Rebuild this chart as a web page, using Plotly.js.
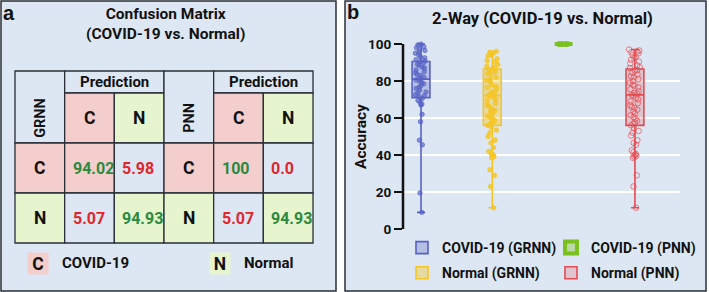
<!DOCTYPE html>
<html><head><meta charset="utf-8">
<script src="https://cdn.plot.ly/plotly-3.0.1.min.js"></script>
<style>html,body{margin:0;padding:0;background:#fff}#chart{width:709px;height:292px}</style>
</head><body><div id="chart"></div>
<script>
// ---------------- data ----------------
const boxCategories = ['COVID-19 (GRNN)', 'Normal (GRNN)', 'COVID-19 (PNN)', 'Normal (PNN)'];
const covidGrnnAcc = [100, 99.5, 98.5, 98, 97, 96.5, 95.5, 95, 94, 93, 92.5, 91.5, 91, 90.5, 90, 89, 88.5, 87.5, 87, 86, 85, 84.5, 83.5, 83, 82, 81.5, 81, 80.5, 80, 79, 78.5, 77.5, 76.5, 76, 75, 74, 73.5, 72.5, 72, 71.5, 70.5, 69.5, 68.5, 67.5, 67, 62, 58, 48, 45.5, 19.5, 9];
const normalGrnnAcc = [96, 95.5, 95, 94, 93.5, 92, 91, 90.5, 89, 88, 87.5, 86.5, 86, 85, 84, 83.5, 82, 81, 80.5, 79.5, 78, 77, 76.5, 75.5, 74, 73, 72.5, 72, 71, 70, 69.5, 68, 67, 66.5, 65, 64, 63.5, 62, 61, 60, 59.5, 58.5, 57.5, 57, 56, 55, 53.5, 52, 50, 48, 46.5, 44, 42, 41, 40, 39.5, 39, 38.5, 32, 29, 23, 11.5];
const covidPnnAcc = [100, 100, 100, 100, 100, 100, 100, 100, 100, 100, 100, 100];
const normalPnnAcc = [97, 96.5, 96, 95.5, 95, 94, 93, 92.5, 91.5, 90.5, 89.5, 88.5, 87.5, 87, 86, 85.5, 84.5, 83.5, 82.5, 82, 81, 80, 79, 78, 77.5, 76.5, 75.5, 74.5, 73.5, 73, 72.5, 72, 71, 70, 69, 68, 67, 66, 65.5, 64.5, 63.5, 62.5, 61.5, 60.5, 59.5, 58.5, 57.5, 57, 56, 54.5, 53, 52, 50.5, 48, 46.5, 45.5, 42.5, 41.5, 40.5, 40, 39.5, 39, 38.5, 29, 23, 11.5];
const boxMin = [9, 11.5, 100, 11.5];
const boxQ1 = [71, 56, 100, 56];
const boxMedian = [81, 72, 100, 72.5];
const boxQ3 = [90.5, 86.5, 100, 86.5];
const boxMax = [100, 96, 100, 97];
const yTickVals = [0, 20, 40, 60, 80, 100];
const gridVals = [20, 40, 60, 80];

const models = ['GRNN', 'PNN'];
const classes = ['C', 'N'];
const classNames = ['COVID-19', 'Normal'];
const grnnMatrix = [['94.02', '5.98'], ['5.07', '94.93']];
const pnnMatrix = [['100', '0.0'], ['5.07', '94.93']];

// ---------------- styles ----------------
const W = 709, H = 292;
const px = x => x / W;
const py = y => 1 - y / H;
const FONT = 'Roboto, "Liberation Sans", Arial, sans-serif';
const WIDE = '"Liberation Sans", Arial, sans-serif';
const PANEL = '#dde7f3', PINK = '#f4cdcd', LGREEN = '#e7f5cf', BORDER = '#2a2f38', INK = '#111111';
const TXT_GREEN = '#2b8a3e', TXT_RED = '#e0262c';
const classFill = [PINK, LGREEN];
const boxLine = ['rgb(88,98,196)', 'rgb(245,198,35)', 'rgb(122,192,30)', 'rgb(228,75,80)'];
const boxFill = ['rgba(88,98,196,0.30)', 'rgba(245,198,35,0.38)', 'rgba(122,192,30,0.35)', 'rgba(228,75,80,0.22)'];
const ptColor = ['rgba(88,98,196,0.65)', 'rgba(245,198,35,0.8)', 'rgba(122,192,30,0.9)', 'rgba(228,75,80,0.7)'];
const ptSymbol = ['circle', 'circle', 'circle', 'circle-open'];
const legendOf = ['legend', 'legend', 'legend2', 'legend2'];
const seriesValues = [covidGrnnAcc, normalGrnnAcc, covidPnnAcc, normalPnnAcc];
const f = (size, color, family) => ({family: family || FONT, size, color: color || INK, weight: 'bold'});

// ---------------- traces ----------------
const traces = [];
boxCategories.forEach((cat, k) => {
  traces.push({
    type: 'box', name: cat, y: seriesValues[k], xaxis: 'x', yaxis: 'y',
    boxpoints: 'all', jitter: 0.7, pointpos: 0, width: 0.25,
    line: {width: 0, color: 'rgba(0,0,0,0)'}, fillcolor: 'rgba(0,0,0,0)', whiskerwidth: 0,
    marker: {color: ptColor[k], size: k === 3 ? 5.5 : 4.5, symbol: ptSymbol[k], line: {width: 1, color: ptColor[k]}},
    showlegend: false, hoverinfo: 'skip'
  });
});
boxCategories.forEach((cat, k) => {
  traces.push({
    type: 'box', name: cat, x: [cat], xaxis: 'x', yaxis: 'y',
    q1: [boxQ1[k]], median: [boxMedian[k]], q3: [boxQ3[k]],
    lowerfence: [boxMin[k]], upperfence: [boxMax[k]],
    boxpoints: false, width: 0.25, whiskerwidth: 0.45,
    line: {color: boxLine[k], width: k === 2 ? 4 : 1.6}, fillcolor: boxFill[k],
    legend: legendOf[k], legendgroup: 'g' + k, showlegend: true
  });
});

// ---------------- layout pieces ----------------
const shapes = [
  {type: 'rect', xref: 'paper', yref: 'paper', x0: px(1), x1: px(336), y0: py(291), y1: py(1), fillcolor: PANEL, line: {color: BORDER, width: 1.5}, layer: 'below'},
  {type: 'rect', xref: 'paper', yref: 'paper', x0: px(345), x1: px(706), y0: py(291), y1: py(1), fillcolor: PANEL, line: {color: BORDER, width: 1.5}, layer: 'below'}
];
gridVals.forEach(v => shapes.push({type: 'line', xref: 'paper', yref: 'y', x0: px(403), x1: px(680), y0: v, y1: v, line: {color: '#ffffff', width: 2}, layer: 'below'}));
shapes.push({type: 'line', xref: 'paper', yref: 'y', x0: px(403), x1: px(403), y0: yTickVals[0], y1: yTickVals[yTickVals.length - 1], line: {color: INK, width: 2.5}});

const annotations = [];
const cellLine = {color: BORDER, width: 1.3};
function cell(x0, x1, y0, y1, fill) {
  shapes.push({type: 'rect', xref: 'x2', yref: 'y2', x0, x1, y0, y1, fillcolor: fill, line: cellLine});
}
function label(x, y, text, opts) {
  annotations.push(Object.assign({xref: 'x2', yref: 'y2', x, y, text, showarrow: false, xanchor: 'center', yanchor: 'middle', font: f(17.5)}, opts || {}));
}
const matrices = [grnnMatrix, pnnMatrix];
const PRED_TOP = 3.44;
models.forEach((m, mi) => {
  const c0 = 3 * mi;
  cell(c0, c0 + 1, 2, PRED_TOP, PANEL);
  label(c0 + 0.5, 2.5, m, {textangle: -90, font: f(14.5)});
  cell(c0 + 1, c0 + 3, 3, PRED_TOP, PANEL);
  label(c0 + 2, (3 + PRED_TOP) / 2, 'Prediction', {font: f(15)});
  classes.forEach((cl, j) => {
    cell(c0 + 1 + j, c0 + 2 + j, 2, 3, classFill[j]);
    label(c0 + 1.5 + j, 2.5, cl);
  });
  classes.forEach((cl, i) => {
    const y0 = 1 - i, y1 = 2 - i;
    cell(c0, c0 + 1, y0, y1, classFill[i]);
    label(c0 + 0.5, y0 + 0.5, cl);
    classes.forEach((cj, j) => {
      cell(c0 + 1 + j, c0 + 2 + j, y0, y1, i === j ? classFill[i] : PANEL);
      label(c0 + 1.12 + j, y0 + 0.5, matrices[mi][i][j], {xanchor: 'left',
        font: f(16, i === j ? TXT_GREEN : TXT_RED)});
    });
  });
});

// panel titles and letters
const paperAnn = (x, y, text, font, extra) => annotations.push(Object.assign({xref: 'paper', yref: 'paper', x: px(x), y: py(y), text, showarrow: false, xanchor: 'center', yanchor: 'middle', font}, extra || {}));
paperAnn(9, 13, 'a', f(20, INK, WIDE));
paperAnn(353, 12, 'b', f(20, INK, WIDE));
paperAnn(165, 24, 'Confusion Matrix<br>(COVID-19 vs. Normal)', f(15.5));
paperAnn(542, 18, '2-Way (COVID-19 vs. Normal)', f(16.5));
paperAnn(361, 137, 'Accuracy', f(15.5), {textangle: -90});
// left legend
const legX = [38, 220];
classes.forEach((cl, i) => {
  paperAnn(legX[i], 263, cl, f(17.5), {bgcolor: classFill[i], width: 20, height: 21, borderpad: 0});
  paperAnn(legX[i] + 22, 263, classNames[i], f(15), {xanchor: 'left'});
});

const legendBase = {xanchor: 'left', yanchor: 'top', bgcolor: 'rgba(0,0,0,0)', borderwidth: 0,
  traceorder: 'grouped', tracegroupgap: 4, font: f(14), itemclick: false, itemdoubleclick: false};

const layout = {
  width: W, height: H,
  margin: {l: 0, r: 0, t: 0, b: 0, pad: 0},
  paper_bgcolor: '#ffffff', plot_bgcolor: 'rgba(0,0,0,0)',
  boxmode: 'overlay',
  showlegend: true,
  xaxis: {domain: [px(403), px(680)], type: 'category', categoryorder: 'array', categoryarray: boxCategories,
    range: [-0.2525, 3.632], visible: false, fixedrange: true},
  yaxis: {domain: [py(229 + 1.5 * 1.853), py(44 - 1.5 * 1.853)], range: [-1.5, 101.5],
    tickvals: yTickVals, ticks: 'outside', ticklen: 8, tickwidth: 2, tickcolor: INK,
    showgrid: false, zeroline: false, showline: false, fixedrange: true,
    tickfont: f(13.5)},
  xaxis2: {domain: [px(15 - 4.967), px(313 + 4.967)], range: [-0.1, 6.1], visible: false, fixedrange: true, anchor: 'y2'},
  yaxis2: {domain: [py(248), py(66)], range: [-0.1, 3.54], visible: false, fixedrange: true, anchor: 'x2'},
  legend: Object.assign({x: px(402), y: py(232)}, legendBase),
  legend2: Object.assign({x: px(551), y: py(232)}, legendBase),
  shapes, annotations
};

Plotly.newPlot('chart', traces, layout, {staticPlot: true, displayModeBar: false});
</script>
</body></html>
